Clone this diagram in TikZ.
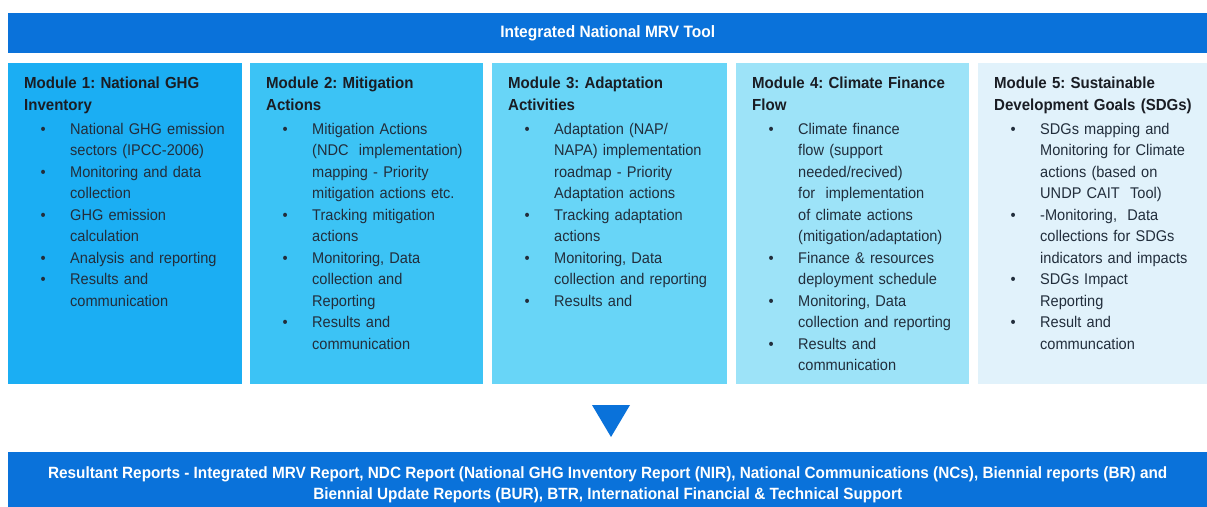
\documentclass[tikz,border=0pt]{standalone}
\usepackage{fontspec}
\setmainfont{Liberation Sans}[FakeStretch=0.94]
\frenchspacing
\definecolor{barblue}{HTML}{0A72DA}
\definecolor{mA}{HTML}{1BAEF3}
\definecolor{mB}{HTML}{3CC3F5}
\definecolor{mC}{HTML}{68D5F7}
\definecolor{mD}{HTML}{9DE3F8}
\definecolor{mE}{HTML}{E1F2FB}
\definecolor{titletext}{HTML}{1A1D24}
\definecolor{bodytext}{HTML}{222E3C}
\newcommand{\bl}[1]{\makebox[46pt][l]{\hspace*{16.5pt}\textbullet}#1}
\newcommand{\cl}[1]{\hspace*{46pt}#1}
\newcommand{\tl}[1]{{\fontsize{16}{21}\selectfont\bfseries\color{titletext}#1}}
\tikzset{
  bar/.style={fill=barblue, draw=none, text=white, font=\fontsize{16.3}{21}\selectfont\bfseries, align=center},
  modbox/.style={draw=none, minimum height=321pt, anchor=north west},
  modtext/.style={anchor=north west, inner sep=0pt, text width=225pt, align=left, text=bodytext, font=\fontsize{15.5}{21.5}\selectfont},
}
\begin{document}
\begin{tikzpicture}[x=1pt,y=-1pt]
\useasboundingbox (0,0) rectangle (1207,506);
\fill[white] (0,0) rectangle (1207,506);
% top bar
\node[bar, minimum width=1199pt, minimum height=40pt, anchor=north west, font=\fontsize{16.5}{21}\selectfont\bfseries] (top) at (8,13) {Integrated National MRV Tool};
% module boxes
\node[modbox, fill=mA, minimum width=234pt] (m1) at (8,63) {};
\node[modbox, fill=mB, minimum width=233pt] (m2) at (250,63) {};
\node[modbox, fill=mC, minimum width=235pt] (m3) at (492,63) {};
\node[modbox, fill=mD, minimum width=233pt] (m4) at (736,63) {};
\node[modbox, fill=mE, minimum width=229pt] (m5) at (978,63) {};
% module texts
\node[modtext] (t1) at (24,77) {\tl{Module 1: National GHG}\\ \tl{Inventory}\\[2.5pt]
\bl{National GHG emission}\\ \cl{sectors (IPCC-2006)}\\
\bl{Monitoring and data}\\ \cl{collection}\\
\bl{GHG emission}\\ \cl{calculation}\\
\bl{Analysis and reporting}\\
\bl{Results and}\\ \cl{communication}};
\node[modtext] (t2) at (266,77) {\tl{Module 2: Mitigation}\\ \tl{Actions}\\[2.5pt]
\bl{Mitigation Actions}\\ \cl{(NDC\ \ implementation)}\\ \cl{mapping - Priority}\\ \cl{mitigation actions etc.}\\
\bl{Tracking mitigation}\\ \cl{actions}\\
\bl{Monitoring, Data}\\ \cl{collection and}\\ \cl{Reporting}\\
\bl{Results and}\\ \cl{communication}};
\node[modtext] (t3) at (508,77) {\tl{Module 3: Adaptation}\\ \tl{Activities}\\[2.5pt]
\bl{Adaptation (NAP/}\\ \cl{NAPA) implementation}\\ \cl{roadmap - Priority}\\ \cl{Adaptation actions}\\
\bl{Tracking adaptation}\\ \cl{actions}\\
\bl{Monitoring, Data}\\ \cl{collection and reporting}\\
\bl{Results and}};
\node[modtext] (t4) at (752,77) {\tl{Module 4: Climate Finance}\\ \tl{Flow}\\[2.5pt]
\bl{Climate finance}\\ \cl{flow (support}\\ \cl{needed/recived)}\\ \cl{for\ \ implementation}\\ \cl{of climate actions}\\ \cl{(mitigation/adaptation)}\\
\bl{Finance \& resources}\\ \cl{deployment schedule}\\
\bl{Monitoring, Data}\\ \cl{collection and reporting}\\
\bl{Results and}\\ \cl{communication}};
\node[modtext] (t5) at (994,77) {\tl{Module 5: Sustainable}\\ \tl{Development Goals (SDGs)}\\[2.5pt]
\bl{SDGs mapping and}\\ \cl{Monitoring for Climate}\\ \cl{actions (based on}\\ \cl{UNDP CAIT\ \ Tool)}\\
\bl{-Monitoring,\ \ Data}\\ \cl{collections for SDGs}\\ \cl{indicators and impacts}\\
\bl{SDGs Impact}\\ \cl{Reporting}\\
\bl{Result and}\\ \cl{communcation}};
% bottom bar (extends below the page edge)
\node[bar, minimum width=1199pt, minimum height=65pt, anchor=north west, inner sep=0pt] (bottom) at (8,452) {Resultant Reports - Integrated MRV Report, NDC Report (National GHG Inventory Report (NIR), National Communications (NCs), Biennial reports (BR) and\\Biennial Update Reports (BUR), BTR, International Financial \& Technical Support};
% arrow
\coordinate (arl) at (592,405);
\coordinate (arr) at (630,405);
\coordinate (art) at (611,437);
\fill[barblue] (arl) -- (arr) -- (art) -- cycle;
\end{tikzpicture}
\end{document}
